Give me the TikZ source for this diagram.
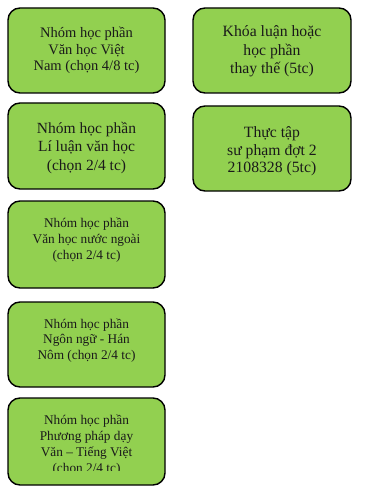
\documentclass[tikz,border=0pt]{standalone}
\usepackage{fontspec}
\setmainfont{Liberation Serif}
\definecolor{boxgreen}{HTML}{92D050}
\definecolor{ink}{HTML}{1A1A1A}
\tikzset{
  course/.style={draw=black, line width=1.4pt, fill=boxgreen, rounded corners=12pt,
    minimum width=157pt, inner sep=0pt},
  caption/.style={align=center, text=ink, inner sep=0pt},
}
\newcommand{\fsz}[2]{\fontsize{#1}{#2}\selectfont}
\begin{document}
\begin{tikzpicture}[x=1pt, y=-1pt]
  \useasboundingbox (0,0) rectangle (385,486);

  % left column: course groups
  \node[course, minimum height=85pt] (vhvn) at (86.5,50.5) {};
  \node[caption, font=\fsz{14.5}{16.7}] (vhvnt) at (86.5,50.3) {Nhóm học phần\\Văn học Việt\\Nam (chọn 4/8 tc)};

  \node[course, minimum height=86pt] (llvh) at (86.5,146) {};
  \node[caption, font=\fsz{15.5}{18.4}] (llvht) at (86.5,148) {Nhóm học phần\\Lí luận văn học\\(chọn 2/4 tc)};

  \node[course, minimum height=87pt] (vhnn) at (86.5,244.5) {};
  \node[caption, font=\fsz{13.3}{15.9}] (vhnnt) at (86.5,240) {Nhóm học phần\\Văn học nước ngoài\\(chọn 2/4 tc)};

  \node[course, minimum height=85pt] (nnhn) at (86.5,344.5) {};
  \node[caption, font=\fsz{13.3}{15.9}] (nnhnt) at (86.5,340.5) {Nhóm học phần\\Ngôn ngữ - Hán\\Nôm (chọn 2/4 tc)};

  \node[course, minimum height=87pt] (ppdh) at (86.5,441.5) {};
  \begin{scope}
    % the last line is cut off at the bottom of the text area
    \clip (10,400) rectangle (163,470);
    \node[caption, font=\fsz{13.3}{16}] (ppdht) at (86.5,445.2) {Nhóm học phần\\Phương pháp dạy\\Văn – Tiếng Việt\\(chọn 2/4 tc)};
  \end{scope}

  % right column
  \node[course, minimum width=158pt, minimum height=85pt] (klhp) at (272,50.5) {};
  \node[caption, font=\fsz{15.7}{18.5}] (klhpt) at (272,51.6) {Khóa luận hoặc\\học phần\\thay thế (5tc)};

  \node[course, minimum width=158pt, minimum height=85pt] (ttsp) at (272,148.5) {};
  \node[caption, font=\fsz{15.7}{17.8}] (ttspt) at (272,151.3) {Thực tập\\sư phạm đợt 2\\2108328 (5tc)};
\end{tikzpicture}
\end{document}
